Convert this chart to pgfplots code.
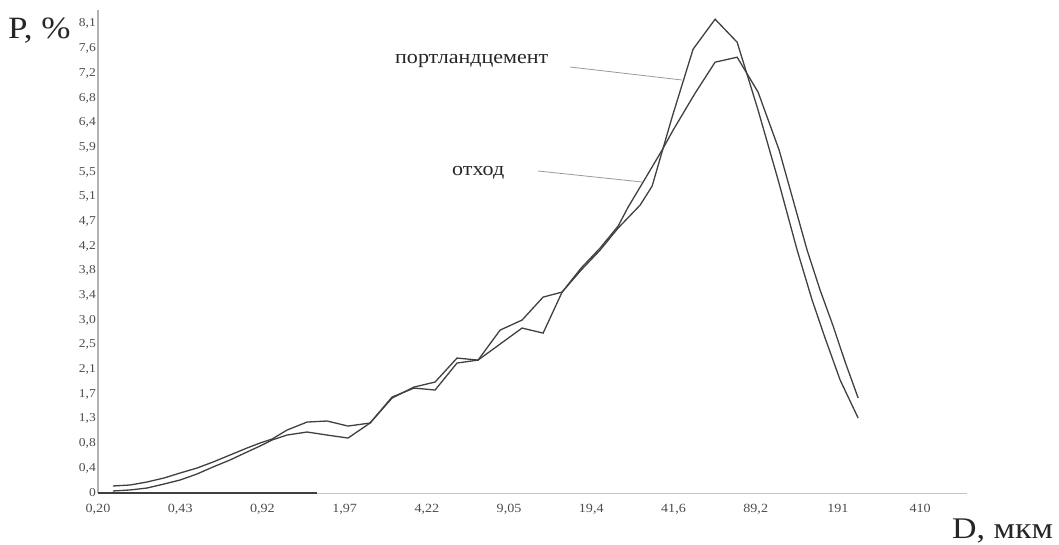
\documentclass[border=0pt]{standalone}
\usepackage{pgfplots}
\pgfplotsset{compat=1.18}
\usepackage{fontspec}
\setmainfont{Liberation Serif}[FakeStretch=1.13]
\begin{document}
\begin{tikzpicture}
\path[use as bounding box] (0,0) rectangle (1059pt,544pt);
\begin{axis}[
  at={(98pt,51pt)}, anchor=south west,
  scale only axis, width=869pt, height=483pt,
  xmin=0, xmax=10.57, ymin=0, ymax=8.34,
  clip=false,
  axis lines=left, axis line style={-},
  x axis line style={draw=gray!45, line width=1pt},
  y axis line style={draw=gray!60, line width=1.6pt},
  major tick length=0pt,
  xtick={0,1,2,3,4,5,6,7,8,9,10},
  xticklabels={{0,20},{0,43},{0,92},{1,97},{4,22},{9,05},{19,4},{41,6},{89,2},{191},{410}},
  ytick={0,0.4263,0.8526,1.2789,1.7053,2.1316,2.5579,2.9842,3.4105,3.8368,4.2632,4.6895,5.1158,5.5421,5.9684,6.3947,6.8211,7.2474,7.6737,8.1},
  yticklabels={{0},{0,4},{0,8},{1,3},{1,7},{2,1},{2,5},{3,0},{3,4},{3,8},{4,2},{4,7},{5,1},{5,5},{5,9},{6,4},{6,8},{7,2},{7,6},{8,1}},
  xticklabel style={font=\fontsize{12.5}{14}\selectfont, text=black!70, yshift=-8pt},
  yticklabel style={font=\fontsize{12}{14}\selectfont, text=black!70, inner sep=1pt, xshift=-1pt},
]
% dark segment of the x axis
\addplot[draw=black!75, line width=1.1pt] coordinates {(0,0) (2.66,0)};
% портландцемент
\addplot[draw=black!75, line width=1.3pt] coordinates {
(0.182,0.121) (0.389,0.138) (0.596,0.190) (0.803,0.259) (0.998,0.345)
(1.204,0.431) (1.399,0.535) (1.606,0.656) (1.813,0.777) (1.971,0.863)
(2.117,0.932) (2.299,1.087) (2.543,1.225) (2.786,1.243) (3.041,1.156)
(3.309,1.208) (3.577,1.640) (3.844,1.829) (4.100,1.916) (4.367,2.330)
(4.623,2.295) (4.891,2.813) (5.158,2.986) (5.414,3.383) (5.645,3.469)
(5.876,3.849) (6.107,4.194) (6.326,4.574) (6.594,4.971) (6.740,5.299)
(6.983,6.490) (7.238,7.663) (7.506,8.181) (7.774,7.784) (8.029,6.610)
(8.273,5.402) (8.504,4.194) (8.686,3.331) (8.844,2.675) (9.027,1.950)
(9.246,1.294)
};
% отход
\addplot[draw=black!75, line width=1.3pt] coordinates {
(0.182,0.035) (0.389,0.052) (0.596,0.086) (0.803,0.155) (0.998,0.224)
(1.204,0.328) (1.399,0.449) (1.606,0.570) (1.813,0.708) (1.971,0.811)
(2.117,0.915) (2.299,1.001) (2.543,1.053) (2.786,1.001) (3.041,0.949)
(3.309,1.208) (3.577,1.657) (3.844,1.812) (4.100,1.778) (4.367,2.244)
(4.623,2.295) (5.158,2.848) (5.414,2.761) (5.645,3.469) (5.876,3.883)
(6.107,4.229) (6.326,4.608) (6.448,4.936) (6.630,5.368) (6.861,5.920)
(6.995,6.265) (7.263,6.904) (7.506,7.439) (7.774,7.525) (8.029,6.921)
(8.285,5.920) (8.455,5.057) (8.625,4.194) (8.783,3.504) (8.942,2.882)
(9.088,2.261) (9.246,1.640)
};
\end{axis}
\node[anchor=base west, inner sep=0pt, text=black!85, font=\fontsize{31}{34}\selectfont] at (8pt,505pt) {P, \%};
\node[anchor=base west, inner sep=0pt, text=black!85, font=\fontsize{30}{33}\selectfont] at (952pt,5.7pt) {D, мкм};
\node[anchor=base west, inner sep=0pt, text=black!85, font=\fontsize{19.5}{22}\selectfont] at (395pt,480.7pt) {портландцемент};
\node[anchor=base west, inner sep=0pt, text=black!85, font=\fontsize{19.5}{22}\selectfont] at (452pt,368.3pt) {отход};
\draw[gray!80, line width=0.8pt] (570pt,477pt) -- (682pt,464pt);
\draw[gray!80, line width=0.8pt] (538pt,373pt) -- (642pt,362pt);
\end{tikzpicture}
\end{document}
